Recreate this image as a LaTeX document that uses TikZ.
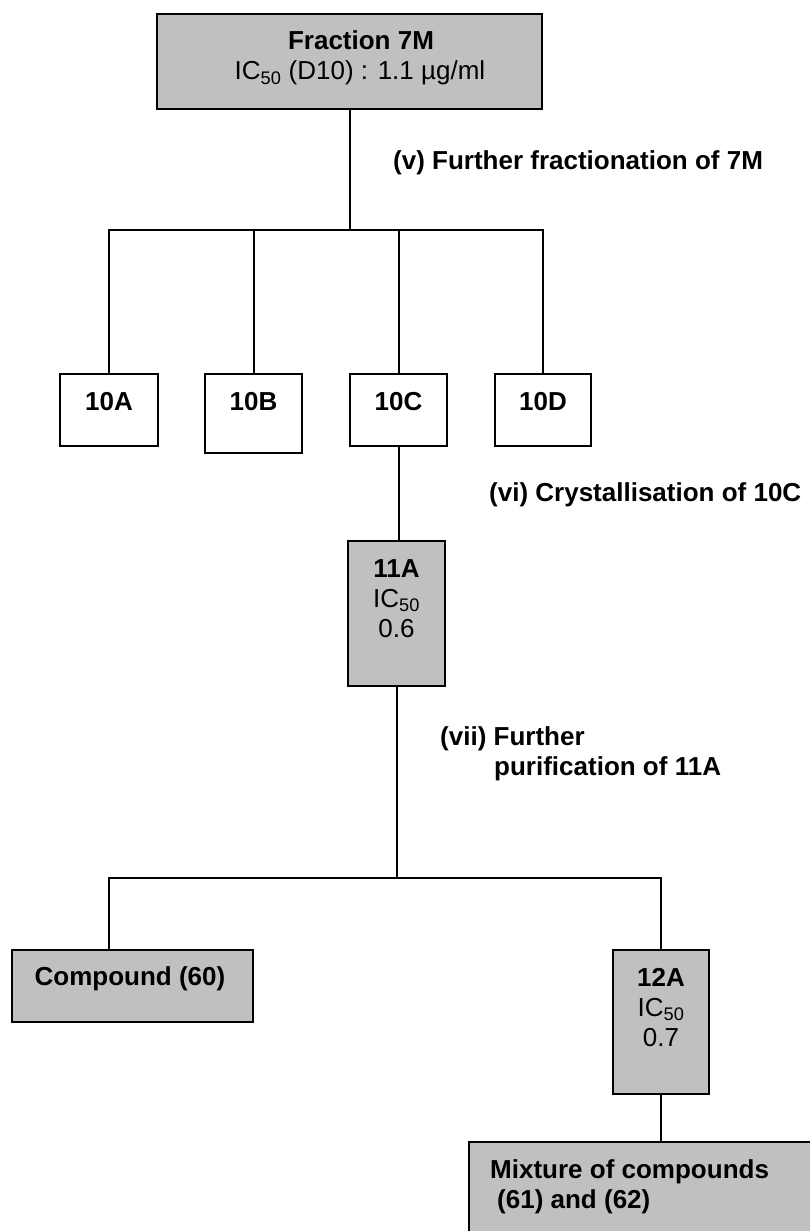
\documentclass[tikz,border=0pt]{standalone}
\usepackage{fontspec}
\setmainfont{Liberation Sans}
\definecolor{boxgray}{RGB}{192,192,192}
\begin{document}
\begin{tikzpicture}[x=1pt,y=-1pt,
  box/.style={draw=black, line width=2pt, inner sep=0pt, rectangle},
  gbox/.style={box, fill=boxgray},
  wbox/.style={box, fill=white},
  conn/.style={draw=black, line width=2pt, line join=miter},
  txt/.style={inner sep=0pt, font=\fontsize{26}{30}\selectfont, anchor=base},
  btxt/.style={txt, font=\fontsize{26}{30}\selectfont\bfseries},
  lbl/.style={btxt, anchor=base west}]
\useasboundingbox (0,0) rectangle (810,1231);

% boxes
\node[gbox, minimum width=385pt, minimum height=95pt] (b7M) at (349.5,61.5) {};
\node[wbox, minimum width=98pt, minimum height=72pt] (b10A) at (109,410) {};
\node[wbox, minimum width=97pt, minimum height=79pt] (b10B) at (253.5,413.5) {};
\node[wbox, minimum width=97pt, minimum height=72pt] (b10C) at (398.5,410) {};
\node[wbox, minimum width=96pt, minimum height=72pt] (b10D) at (543,410) {};
\node[gbox, minimum width=97pt, minimum height=145pt] (b11A) at (396.5,613.5) {};
\node[gbox, minimum width=241pt, minimum height=72pt] (bC60) at (132.5,986) {};
\node[gbox, minimum width=96pt, minimum height=144pt] (b12A) at (661,1022) {};
\node[gbox, minimum width=345pt, minimum height=110pt] (bMix) at (641.5,1197) {};

% texts in boxes
\node[btxt] (t7Ma) at (361,50) {Fraction 7M};
\node[txt] (t7Mb) at (360,80) {IC\textsubscript{50} (D10) : 1.1 µg/ml};
\node[btxt] (t10A) at (109,410) {10A};
\node[btxt] (t10B) at (253.5,410) {10B};
\node[btxt] (t10C) at (398.5,410) {10C};
\node[btxt] (t10D) at (543,410) {10D};
\node[btxt] (t11Aa) at (396.5,577) {11A};
\node[txt] (t11Ab) at (396.5,607) {IC\textsubscript{50}};
\node[txt] (t11Ac) at (396.5,637) {0.6};
\node[btxt] (tC60) at (130,985) {Compound (60)};
\node[btxt] (t12Aa) at (661,986) {12A};
\node[txt] (t12Ab) at (661,1016) {IC\textsubscript{50}};
\node[txt] (t12Ac) at (661,1046) {0.7};
\node[lbl] (tMixa) at (490,1178) {Mixture of compounds};
\node[lbl] (tMixb) at (497,1208) {(61) and (62)};

% step labels
\node[lbl] (lv) at (393,169) {(v) Further fractionation of 7M};
\node[lbl] (lvi) at (489,501) {(vi) Crystallisation of 10C};
\node[lbl] (lviia) at (440,745) {(vii) Further};
\node[lbl] (lviib) at (494,775) {purification of 11A};

% connectors
\coordinate (j1) at (349.5,230);
\draw[conn] (b7M.south) -- (j1);
\draw[conn] (b10A.north) -- (b10A.north |- j1) -- (b10D.north |- j1) -- (b10D.north);
\draw[conn] (b10B.north |- j1) -- (b10B.north);
\draw[conn] (b10C.north |- j1) -- (b10C.north);
\draw[conn] (b10C.south) -- (b10C.south |- b11A.north);
\coordinate (j2) at (397,878);
\coordinate (dL) at (109,878);
\draw[conn] (b11A.south) -- (b11A.south |- j2);
\draw[conn] (bC60.north -| dL) -- (dL) -- (b12A.north |- j2) -- (b12A.north);
\draw[conn] (b12A.south) -- (b12A.south |- bMix.north);
\end{tikzpicture}
\end{document}
